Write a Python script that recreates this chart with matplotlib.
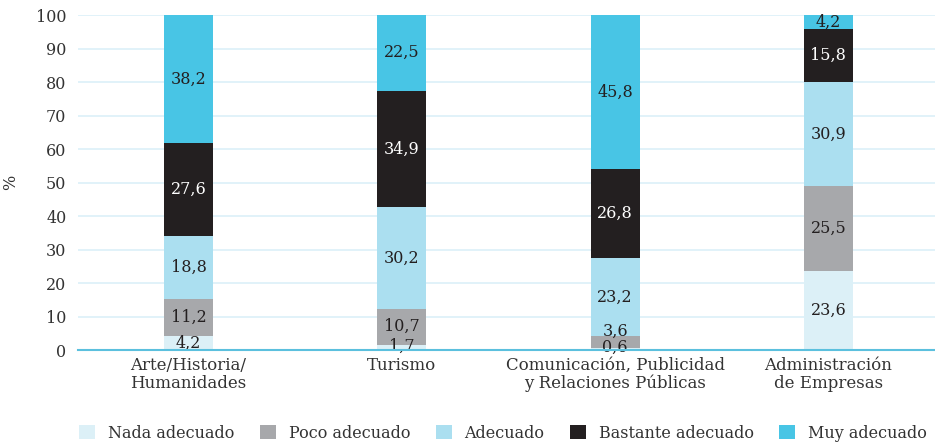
import matplotlib
matplotlib.use("Agg")
import matplotlib.pyplot as plt
import numpy as np

categories = ["Arte/Historia/\nHumanidades", "Turismo",
              "Comunicación, Publicidad\ny Relaciones Públicas",
              "Administración\nde Empresas"]
series_names = ["Nada adecuado", "Poco adecuado", "Adecuado",
                "Bastante adecuado", "Muy adecuado"]
nada = [4.2, 1.7, 0.6, 23.6]
poco = [11.2, 10.7, 3.6, 25.5]
adecuado = [18.8, 30.2, 23.2, 30.9]
bastante = [27.6, 34.9, 26.8, 15.8]
muy = [38.2, 22.5, 45.8, 4.2]
yticks = [0, 10, 20, 30, 40, 50, 60, 70, 80, 90, 100]

colors = ["#dcf0f7", "#a7a8ab", "#abdff0", "#231f20", "#48c5e5"]
text_colors = ["#231f20", "#231f20", "#231f20", "white", "#231f20"]

plt.rcParams['font.family'] = ['DejaVu Serif']
fig = plt.figure(figsize=(9.35, 4.45), dpi=100)
ax = fig.add_axes([0.083, 0.213, 0.917, 0.753])

x = np.arange(len(categories))
data = [nada, poco, adecuado, bastante, muy]
bottom = np.zeros(len(categories))
# small vertical nudges (points) for labels that would overlap
nudges = {(0, 2): 1.5, (1, 2): 7.5, (0, 1): 1}
for i, (vals, c, tc, name) in enumerate(zip(data, colors, text_colors, series_names)):
    vals = np.array(vals)
    ax.bar(x, vals, bottom=bottom, width=0.23, color=c, label=name, zorder=2)
    for j, v in enumerate(vals):
        dy = nudges.get((i, j), 0)
        ax.annotate(f"{v:.1f}".replace(".", ","), (x[j], bottom[j] + v / 2),
                    xytext=(0, dy), textcoords="offset points",
                    ha="center", va="center", color=tc, fontsize=11.5, zorder=3)
    bottom += vals

ax.set_xlim(-0.52, 3.5)
ax.set_ylim(0, 100)
ax.set_yticks(yticks)
ax.set_yticklabels([str(t) for t in yticks], fontsize=11.5, color="#333333")
ax.set_xticks(x)
ax.set_xticklabels(categories, fontsize=12, color="#333333", linespacing=1.05)
ax.tick_params(axis="x", length=0, pad=5)
ax.tick_params(axis="y", length=0, pad=8)
ax.yaxis.grid(True, color="#dcf0f8", linewidth=1.2, zorder=0)
ax.set_axisbelow(True)
for s in ["top", "right", "left"]:
    ax.spines[s].set_visible(False)
ax.spines["bottom"].set_color("#5bc0de")
ax.spines["bottom"].set_linewidth(1.5)
ax.spines["bottom"].set_zorder(4)
ax.set_ylabel("%", fontsize=11.5, color="#333333", labelpad=12)

handles, labels = ax.get_legend_handles_labels()
fig.legend(handles, labels, loc="lower center", bbox_to_anchor=(0.538, -0.025), ncol=5,
           frameon=False, fontsize=11.5, handlelength=1.0, handleheight=1.0,
           columnspacing=1.6, handletextpad=0.8, labelcolor="#333333")

fig.savefig("out.png", dpi=100)
